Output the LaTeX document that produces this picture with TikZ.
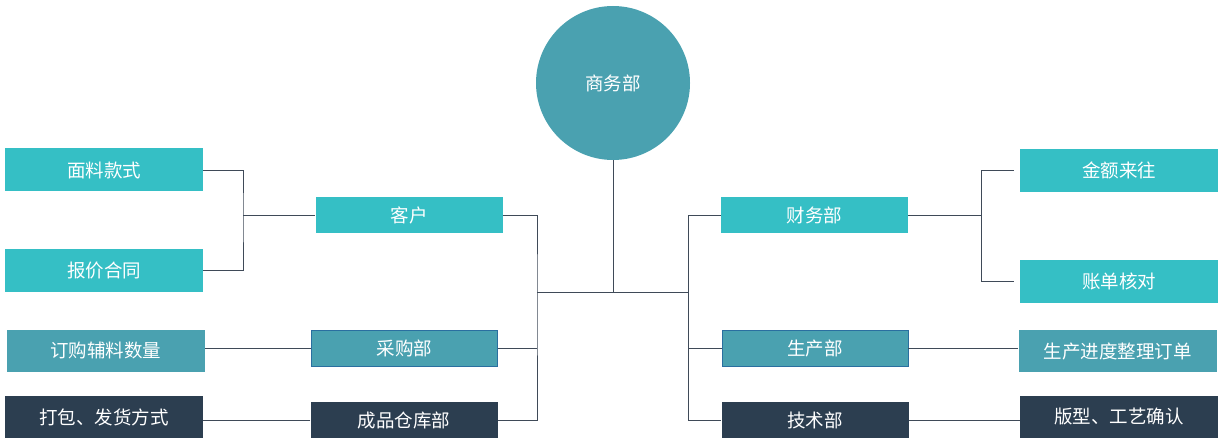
\documentclass[tikz,border=0pt]{standalone}
\usepackage{fontspec}
\newfontfamily\cjk{Noto Sans CJK SC}
\definecolor{cteal}{HTML}{35BFC5}
\definecolor{cblue}{HTML}{4AA1B0}
\definecolor{cnavy}{HTML}{2C3E50}
\definecolor{cedge}{HTML}{2A6FA0}
\definecolor{cline}{HTML}{3F4A58}

\begin{document}
\begin{tikzpicture}[x=1pt,y=-1pt,
  box/.style={rectangle,text=white,inner sep=0pt,
    font=\cjk\fontsize{18.5}{20}\selectfont},
  leaf/.style={box,fill=cteal,minimum width=198pt,minimum height=43pt},
  leafb/.style={box,fill=cblue,minimum width=198pt,minimum height=42pt},
  leafn/.style={box,fill=cnavy,minimum width=198pt,minimum height=42pt},
  dept/.style={box,fill=cteal,minimum width=187pt,minimum height=36pt},
  deptb/.style={box,fill=cblue,draw=cedge,line width=0.8pt,
    minimum width=186pt,minimum height=36pt},
  deptn/.style={box,fill=cnavy,minimum width=187pt,minimum height=36pt},
  link/.style={draw=cline,line width=0.9pt}]
  \useasboundingbox (0,0) rectangle (1225,446);
  % centre
  \node[circle,fill=cblue,minimum size=154pt,inner sep=0pt,text=white,
    font=\cjk\fontsize{18.5}{20}\selectfont] (shang) at (613,83) {商务部};
  % left leaves
  \node[leaf] (mianliao) at (104,170) {面料款式};
  \node[leaf] (baojia) at (104,270.5) {报价合同};
  \node[leafb] (dinggou) at (105.5,350.5) {订购辅料数量};
  \node[leafn] (dabao) at (104,417) {打包、发货方式};
  % left departments
  \node[dept] (kehu) at (409,215) {客户};
  \node[deptb] (caigou) at (404.5,348) {采购部};
  \node[deptn] (chengpin) at (404,420) {成品仓库部};
  % right departments
  \node[dept] (caiwu) at (814.5,215) {财务部};
  \node[deptb] (shengchan) at (815,348.5) {生产部};
  \node[deptn] (jishu) at (815,420) {技术部};
  % right leaves
  \node[leaf] (jine) at (1119,170.5) {金额来往};
  \node[leaf] (zhangdan) at (1119,281.5) {账单核对};
  \node[leafb] (jindu) at (1117.5,351) {生产进度整理订单};
  \node[leafn] (banxing) at (1119,416.5) {版型、工艺确认};

  % spines
  \coordinate (lsp) at (243,215);
  \coordinate (msl) at (537,292);
  \coordinate (hub) at (613,292);
  \coordinate (msr) at (688,292);
  \coordinate (rsp) at (981,215);

  \draw[link] (mianliao.east) -| (lsp) |- (baojia.east);
  \draw[link] (lsp) -- (kehu.west);
  \draw[link] (caigou.west) -- (caigou.west -| dinggou.east);
  \draw[link] (chengpin.west) -- (chengpin.west -| dabao.east);
  \draw[link] (kehu.east) -| (msl) |- (chengpin.east);
  \draw[link] (caigou.east) -- (caigou.east -| msl);
  \draw[link] (shang) -- (hub);
  \draw[link] (msl) -- (msr);
  \draw[link] (caiwu.west) -| (msr) |- (jishu.west);
  \draw[link] (shengchan.west) -- (shengchan.west -| msr);
  \draw[link] (caiwu.east) -- (rsp);
  \draw[link] ([xshift=-6pt]jine.west) -| (rsp) |- ([xshift=-6pt]zhangdan.west);
  \draw[link] (shengchan.east) -- (shengchan.east -| jindu.west);
  \draw[link] (jishu.east) -- (jishu.east -| banxing.west);
\end{tikzpicture}
\end{document}
